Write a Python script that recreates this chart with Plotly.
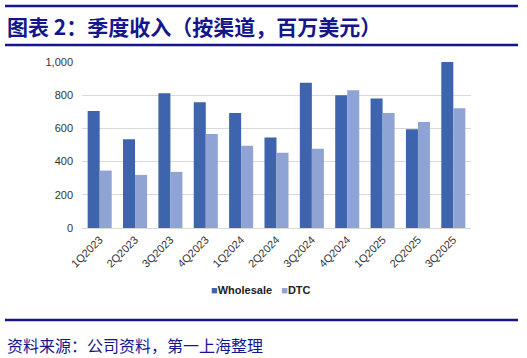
import plotly.graph_objects as go

categories = ["1Q2023", "2Q2023", "3Q2023", "4Q2023", "1Q2024", "2Q2024",
              "3Q2024", "4Q2024", "1Q2025", "2Q2025", "3Q2025"]
wholesale = [705, 535, 812, 758, 693, 545, 875, 800, 780, 595, 1000]
dtc = [346, 320, 338, 566, 496, 454, 478, 830, 693, 639, 721]
y_ticks = [0, 200, 400, 600, 800, 1000]
y_tick_text = ["0", "200", "400", "600", "800", "1,000"]

W, H = 527, 358
L, R, T, B = 82, 56, 62, 130
pw, ph = W - L - R, H - T - B

def px(x):
    return (x - L) / pw

def py(y):
    return (H - B - y) / ph

navy = "#15158C"
c_whole = "#3D64AD"
c_dtc = "#8FA4D5"

fig = go.Figure()
fig.add_trace(go.Bar(name="Wholesale", x=categories, y=wholesale,
                     marker=dict(color=c_whole, line=dict(width=0))))
fig.add_trace(go.Bar(name="DTC", x=categories, y=dtc,
                     marker=dict(color=c_dtc, line=dict(width=0))))

fig.update_layout(
    width=W, height=H,
    margin=dict(l=L, r=R, t=T, b=B, autoexpand=False),
    paper_bgcolor="white", plot_bgcolor="white",
    barmode="group", bargap=0.32, bargroupgap=0,
    font=dict(family="Liberation Sans, Arial", size=11, color="#333333"),
    showlegend=False,
    xaxis=dict(tickangle=-45, showgrid=False, showline=True, linecolor="#D9D9D9",
               linewidth=1, ticks="", automargin=False,
               tickfont=dict(size=11, color="#333333")),
    yaxis=dict(range=[0, 1000], tickvals=y_ticks, ticktext=y_tick_text,
               showgrid=True, gridcolor="#D9D9D9", gridwidth=1, zeroline=False,
               showline=False, ticks="", ticklabelstandoff=8, automargin=False,
               tickfont=dict(size=11, color="#333333")),
)

# legend drawn as text
fig.add_annotation(
    text=(f"<span style='color:{c_whole}'>■</span><b>Wholesale</b>"
          f"   <span style='color:{c_dtc}'>■</span><b>DTC</b>"),
    xref="paper", yref="paper", x=px(261), y=py(290), xanchor="center", yanchor="middle",
    showarrow=False, font=dict(family="Liberation Sans, Arial", size=11, color="#222222"))

# decorative rules
for yy, wdt in [(6, 2.5), (45, 2.5), (320, 2.5)]:
    fig.add_shape(type="line", xref="paper", yref="paper",
                  x0=px(5), x1=px(518), y0=py(yy), y1=py(yy),
                  line=dict(color=navy, width=wdt))

fig.add_annotation(text="<b>图表 2：季度收入（按渠道，百万美元）</b>", xref="paper", yref="paper",
                   x=px(5), y=py(26), xanchor="left", yanchor="middle", showarrow=False,
                   font=dict(family="Noto Sans CJK SC", size=21, color=navy))
fig.add_annotation(text="资料来源：公司资料，第一上海整理", xref="paper", yref="paper",
                   x=px(5), y=py(345), xanchor="left", yanchor="middle", showarrow=False,
                   font=dict(family="Noto Sans CJK SC", size=16, color=navy))

fig.write_html("out.html", config={"displayModeBar": False},
               post_script="document.body.style.margin='0';document.body.style.overflow='hidden';")
